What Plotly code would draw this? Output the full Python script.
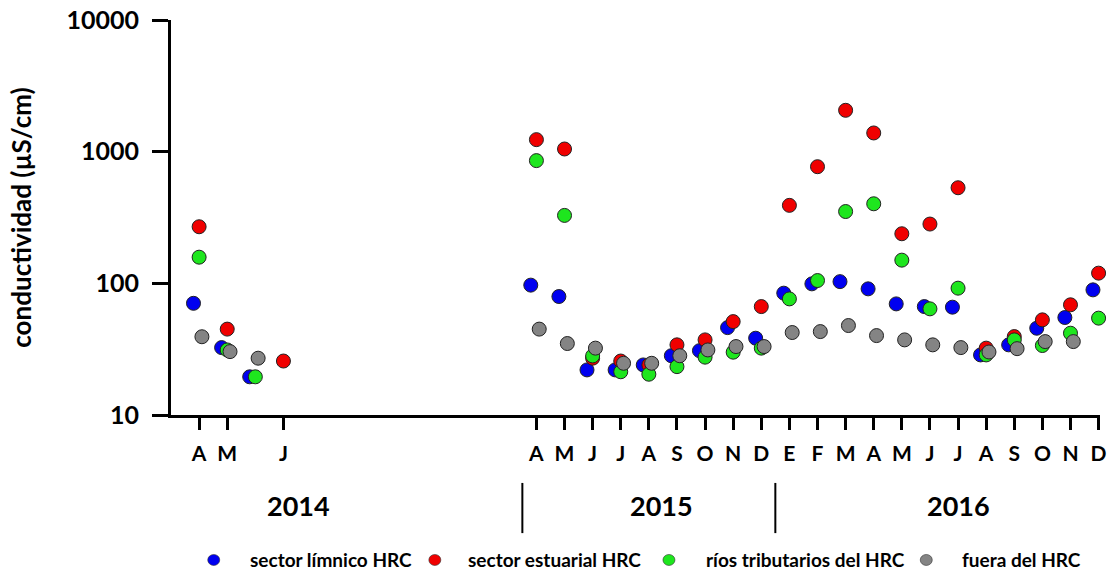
import plotly.graph_objects as go

# Month index: 0 = April 2014 ... 32 = December 2016
month_index = [0, 1, 2, 3,
               12, 13, 14, 15, 16, 17, 18, 19, 20,
               21, 22, 23, 24, 25, 26, 27, 28, 29, 30, 31, 32]

tick_index = [0, 1, 3] + list(range(12, 33))
tick_labels = ["A", "M", "J",
               "A", "M", "J", "J", "A", "S", "O", "N", "D",
               "E", "F", "M", "A", "M", "J", "J", "A", "S", "O", "N", "D"]

limnico = [70.5, 32.5, 19.5, None,
           96.9, 79.4, 22.0, 22.0, 24.0, 28.2, 30.8, 46.1, 38.3,
           84.2, 99.1, 103, 90.8, 69.8, 66.6, 65.9, 28.6, 34.1, 45.6, 55.0, 89.2]
estuarial = [269, 44.9, None, 25.7,
             1234, 1048, 27.0, 25.7, 24.0, 34.1, 37.2, 51.2, 66.6,
             391, 769, 2061, 1387, 238, 282, 532, 32.2, 39.4, 52.8, 68.7, 119.5]
tributarios = [158, 31.2, 19.5, None,
               855, 328, 28.1, 21.3, 20.4, 23.3, 27.5, 30.0, 32.2,
               76.2, 105, 351, 402, 150, 64.0, 91.9, 28.6, 37.2, 33.7, 41.8, 54.4]
fuera = [39.3, 30.3, 27.0, None,
         44.9, 34.9, 32.2, 24.7, 24.7, 28.2, 31.2, 33.1, 33.1,
         42.3, 43.0, 47.8, 40.1, 37.2, 34.1, 32.5, 30.1, 31.9, 36.1, 36.1, None]

years = ["2014", "2015", "2016"]
year_centers = [3.52, 16.45, 27.03]
year_breaks = [11.5, 20.5]

FONT = "Lato"

series = [
    ("sector límnico HRC", limnico, "#0000f0", -0.2),
    ("sector estuarial HRC", estuarial, "#f00000", 0.0),
    ("ríos tributarios del HRC", tributarios, "#1ee61e", 0.0),
    ("fuera del HRC", fuera, "#848484", 0.1),
]

# legend row: symbol position and text start (paper fraction of the plot width)
legend_symbol_x = [0.046, 0.284, 0.536, 0.813]
legend_text_x = [0.083, 0.318, 0.574, 0.849]
legend_y = -0.367

fig = go.Figure()
for name, values, color, shift in series:
    xs = [m + shift for m, v in zip(month_index, values) if v is not None]
    ys = [v for v in values if v is not None]
    fig.add_trace(go.Scatter(
        x=xs, y=ys, mode="markers", name=name, showlegend=False,
        marker=dict(size=14, color=color, line=dict(color="#222222", width=1)),
        cliponaxis=False,
    ))

for (name, _, color, _), sx, tx in zip(series, legend_symbol_x, legend_text_x):
    fig.add_shape(type="circle", xref="paper", yref="paper",
                  xsizemode="pixel", ysizemode="pixel",
                  xanchor=sx, yanchor=legend_y, x0=-6, x1=6, y0=-5.5, y1=5.5,
                  fillcolor=color, line=dict(color="#333333", width=0.6))
    fig.add_annotation(x=tx, y=legend_y, xref="paper", yref="paper", text=name,
                       xanchor="left", yanchor="middle", showarrow=False,
                       font=dict(family=FONT, size=19, color="black", weight="bold"))

for label, xc in zip(years, year_centers):
    fig.add_annotation(x=xc, y=-0.228, xref="x", yref="paper", text=label,
                       xanchor="center", yanchor="middle", showarrow=False,
                       font=dict(family=FONT, size=27, color="black", weight="bold"))

for xb in year_breaks:
    fig.add_shape(type="line", xref="x", yref="paper", x0=xb, x1=xb, y0=-0.172, y1=-0.299,
                  line=dict(color="black", width=2))

fig.update_xaxes(
    range=[-1, 32.05], tickmode="array", tickvals=tick_index, ticktext=tick_labels,
    showline=True, linecolor="black", linewidth=3, ticks="outside", ticklen=12, tickwidth=3,
    tickcolor="black", showgrid=False, zeroline=False, automargin=False,
    ticklabelstandoff=6,
    tickfont=dict(family=FONT, size=21, color="black", weight="bold"),
)
fig.update_yaxes(
    type="log", range=[1, 4], tickvals=[10, 100, 1000, 10000],
    ticktext=["10", "100", "1000", "10000"],
    showline=True, linecolor="black", linewidth=3, ticks="outside", ticklen=16, tickwidth=3,
    tickcolor="black", showgrid=False, zeroline=False, automargin=False,
    ticklabelstandoff=8,
    tickfont=dict(family=FONT, size=25, color="black", weight="bold"),
    title=dict(text="conductividad (µS/cm)", standoff=28,
               font=dict(family=FONT, size=26, color="black", weight="bold")),
)

fig.update_layout(
    width=1111, height=572,
    margin=dict(l=171, r=11, t=20, b=157),
    paper_bgcolor="white", plot_bgcolor="white",
    showlegend=False,
)

fig.write_html("out.html")
